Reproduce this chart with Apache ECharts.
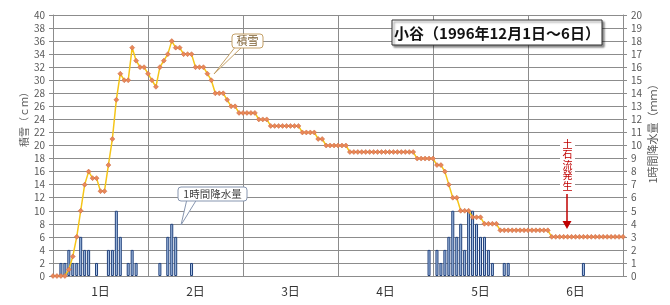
<!DOCTYPE html>
<html><head><meta charset="utf-8">
<script src="https://cdn.jsdelivr.net/npm/echarts@6/dist/echarts.min.js"></script>
<style>html,body{margin:0;padding:0;background:#fff}#c{width:670px;height:305px}</style>
</head><body><div id="c"></div>
<script>
// hourly index 0..144 (1996-12-01 0:00 .. 12-06 24:00)
const hours = Array.from({length:145}, (_, i) => String(i));
const dayLabels = ['1日','2日','3日','4日','5日','6日'];
// snow depth (cm), hourly
const snow = [
0,0,0,0,1,3,6,10,14,16,
15,15,13,13,17,21,27,31,30,30,
35,33,32,32,31,30,29,32,33,34,
36,35,35,34,34,34,32,32,32,31,
30,28,28,28,27,26,26,25,25,25,
25,25,24,24,24,23,23,23,23,23,
23,23,23,22,22,22,22,21,21,20,
20,20,20,20,20,19,19,19,19,19,
19,19,19,19,19,19,19,19,19,19,
19,19,18,18,18,18,18,17,17,16,
14,12,12,10,10,10,9,9,9,8,
8,8,8,7,7,7,7,7,7,7,
7,7,7,7,7,7,6,6,6,6,
6,6,6,6,6,6,6,6,6,6,
6,6,6,6,6
];
// hourly precipitation (mm)
const rain = [
0,0,1,1,2,1,1,3,2,2,
0,1,0,0,2,2,5,3,0,1,
2,1,0,0,0,0,0,1,0,3,
4,3,0,0,0,1,0,0,0,0,
0,0,0,0,0,0,0,0,0,0,
0,0,0,0,0,0,0,0,0,0,
0,0,0,0,0,0,0,0,0,0,
0,0,0,0,0,0,0,0,0,0,
0,0,0,0,0,0,0,0,0,0,
0,0,0,0,0,2,0,2,1,2,
3,5,3,4,2,5,5,4,3,3,
2,1,0,0,1,1,0,0,0,0,
0,0,0,0,0,0,0,0,0,0,
0,0,0,0,1,0,0,0,0,0,
0,0,0,0,0
];
const alertChars = ['土','石','流','発','生'];

const FONT = '"Noto Sans CJK JP", "Noto Sans", sans-serif';
const GRID = '#8c8c8c';
const chart = echarts.init(document.getElementById('c'), null, {renderer:'canvas'});
const graphics = [
    {type:'text',x:24,y:117,rotation:Math.PI/2,
     style:{text:'積雪（ｃｍ）',fontSize:10,fill:'#595959',fontFamily:FONT,align:'center',verticalAlign:'middle'}},
    {type:'text',x:653,y:131,rotation:Math.PI/2,
     style:{text:'1時間降水量（ｍｍ）',fontSize:11,fill:'#595959',fontFamily:FONT,align:'center',verticalAlign:'middle'}},
    {type:'rect',shape:{x:392,y:20,width:210,height:25},
     style:{fill:'#fff',stroke:'#333',lineWidth:1,shadowBlur:2,shadowOffsetX:2,shadowOffsetY:2,shadowColor:'rgba(0,0,0,0.45)'},z:10},
    {type:'text',x:497,y:33,z:11,
     style:{text:'小谷（1996年12月1日～6日）',fontSize:15,fontWeight:'bold',fill:'#111',fontFamily:FONT,align:'center',verticalAlign:'middle'}},
    {type:'polygon',shape:{points:[[236,46],[243,46],[214,74]]},style:{fill:'#fff',stroke:'#c4a066',lineWidth:1},z:10},
    {type:'rect',shape:{x:232,y:34,width:31,height:14,r:3},style:{fill:'#fff',stroke:'#c4a066',lineWidth:1},z:11},
    {type:'text',x:247.5,y:41,z:12,style:{text:'積雪',fontSize:11,fill:'#7a5c2e',fontFamily:FONT,align:'center',verticalAlign:'middle'}},
    {type:'polygon',shape:{points:[[187,199],[197,199],[181,225]]},style:{fill:'#fff',stroke:'#8796b0',lineWidth:1},z:10},
    {type:'rect',shape:{x:178,y:187,width:69,height:14,r:3},style:{fill:'#fff',stroke:'#8796b0',lineWidth:1},z:11},
    {type:'text',x:212.5,y:194,z:12,style:{text:'1時間降水量',fontSize:10.5,fill:'#404040',fontFamily:FONT,align:'center',verticalAlign:'middle'}},
    {type:'rect',shape:{x:560,y:137,width:15,height:54},style:{fill:'#fff'},z:10},
    {type:'line',shape:{x1:567,y1:194,x2:567,y2:222},style:{stroke:'#c00000',lineWidth:1.5},z:11},
    {type:'polygon',shape:{points:[[562.5,221],[571.5,221],[567,229]]},style:{fill:'#c00000'},z:11}
];
alertChars.forEach((ch, i) => {
  graphics.push({type:'text',x:567.5,y:144 + i*10.5,z:12,
    style:{text:ch,fontSize:10,fontWeight:'normal',fill:'#c00000',fontFamily:FONT,align:'center',verticalAlign:'middle'}});
});
chart.setOption({
  animation:false,
  backgroundColor:'#fff',
  textStyle:{fontFamily:FONT},
  grid:{left:53,right:47,top:15,bottom:29,containLabel:false},
  xAxis:[
    {type:'category',data:hours,boundaryGap:false,
     axisLine:{show:true,lineStyle:{color:GRID}},axisTick:{show:false},
     axisLabel:{show:false},splitLine:{show:false}},
    {type:'category',data:dayLabels,boundaryGap:true,position:'bottom',
     axisLine:{show:false},axisTick:{show:false},
     axisLabel:{show:true,interval:0,margin:9,fontSize:12,color:'#333',fontFamily:FONT},
     splitLine:{show:true,interval:0,lineStyle:{color:GRID,width:1}}}
  ],
  yAxis:[
    {type:'value',min:0,max:40,interval:2,position:'left',
     axisLine:{show:true,lineStyle:{color:GRID}},
     axisTick:{show:true,length:4,lineStyle:{color:GRID}},
     axisLabel:{fontSize:10,color:'#595959',margin:8,fontFamily:FONT},
     splitLine:{show:true,lineStyle:{color:GRID,width:1}}},
    {type:'value',min:0,max:20,interval:1,position:'right',
     axisLine:{show:true,lineStyle:{color:GRID}},
     axisTick:{show:true,length:4,lineStyle:{color:GRID}},
     axisLabel:{fontSize:10,color:'#595959',margin:8,fontFamily:FONT},
     splitLine:{show:false}}
  ],
  series:[
    {type:'bar',name:'1時間降水量',xAxisIndex:0,yAxisIndex:1,
     data:rain.map(v => v === 0 ? '-' : v),barWidth:3,
     itemStyle:{color:'#a9c4e8',borderColor:'#1f3f7a',borderWidth:1}},
    {type:'line',name:'積雪',xAxisIndex:0,yAxisIndex:0,data:snow,
     symbol:'diamond',symbolSize:5,showSymbol:true,showAllSymbol:true,
     lineStyle:{color:'#f5c518',width:1.5},
     itemStyle:{color:'#e8875a',borderColor:'#c8683c',borderWidth:0.5},z:5}
  ],
  graphic:graphics
});
</script></body></html>
